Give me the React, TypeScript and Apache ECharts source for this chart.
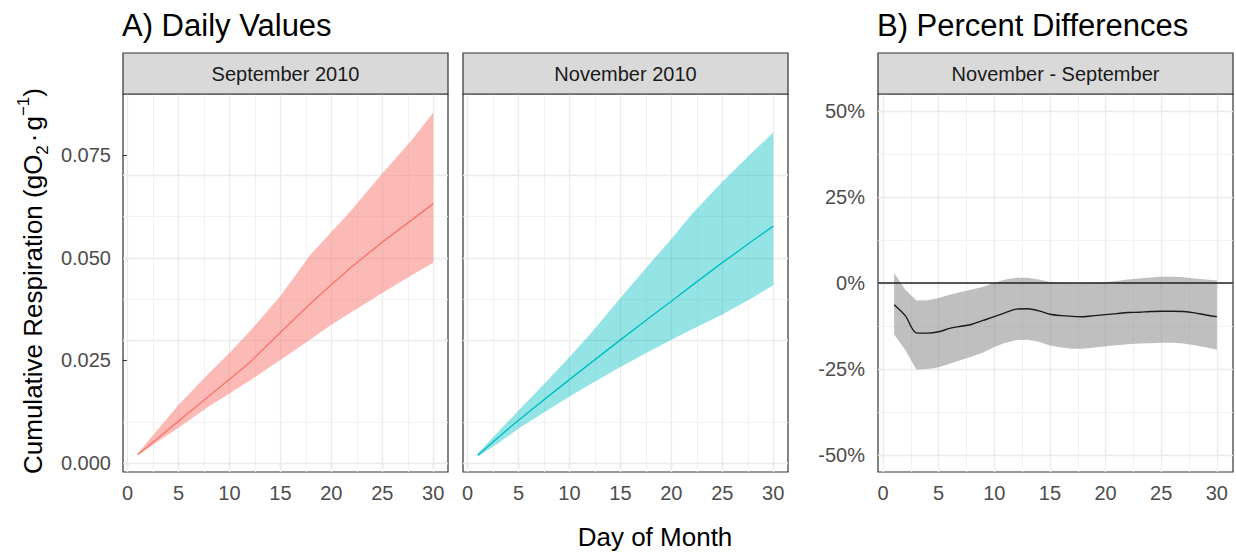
import React, { useEffect, useRef } from "react";
import * as echarts from "echarts";

// ---------- data ----------
const daysA = [1, 3, 5, 8, 10, 12, 15, 18, 20, 22, 25, 28, 30];
const sepMean = [0.00205, 0.0061, 0.0102, 0.0163, 0.0204, 0.0245, 0.0318, 0.039, 0.0434, 0.0478, 0.0538, 0.0594, 0.0632];
const sepUpper = [0.0023, 0.0083, 0.0141, 0.0219, 0.0268, 0.0321, 0.0407, 0.0509, 0.0563, 0.0617, 0.0705, 0.079, 0.0854];
const sepLower = [0.0018, 0.0053, 0.0086, 0.0138, 0.0169, 0.0201, 0.0251, 0.0302, 0.0337, 0.0368, 0.0414, 0.0459, 0.0488];
const novMean = [0.0019, 0.0062, 0.0104, 0.0164, 0.0203, 0.0242, 0.03, 0.0357, 0.0394, 0.0432, 0.0488, 0.0542, 0.0577];
const novUpper = [0.0023, 0.0076, 0.0128, 0.0205, 0.0258, 0.0313, 0.0402, 0.0489, 0.0546, 0.0606, 0.0685, 0.0758, 0.0805];
const novLower = [0.0015, 0.0048, 0.0084, 0.0131, 0.0162, 0.0191, 0.0234, 0.0274, 0.03, 0.0325, 0.0362, 0.0403, 0.0433];

const daysB = [1, 2, 3, 4, 5, 6, 7, 8, 9, 10, 11, 12, 13, 14, 15, 16, 17, 18, 19, 20, 21, 22, 23, 24, 25, 26, 27, 28, 29, 30];
const diffMean = [-6.3, -9.5, -14.5, -14.6, -14.2, -13.2, -12.6, -12.0, -10.9, -9.8, -8.6, -7.6, -7.5, -8.1, -9.1, -9.5, -9.7, -9.8, -9.5, -9.2, -8.9, -8.6, -8.5, -8.3, -8.2, -8.2, -8.3, -8.7, -9.3, -9.8];
const diffUpper = [2.9, -2.0, -5.1, -5.0, -4.4, -3.4, -2.6, -1.9, -1.1, 0.1, 1.0, 1.5, 1.5, 1.0, 0.3, 0.0, -0.1, -0.1, 0.1, 0.3, 0.6, 1.0, 1.3, 1.6, 1.8, 1.8, 1.7, 1.3, 1.0, 0.7];
const diffLower = [-15.0, -19.5, -25.2, -25.0, -24.5, -23.5, -22.4, -21.4, -20.2, -18.6, -17.4, -16.6, -16.5, -17.1, -18.2, -18.8, -19.1, -19.1, -18.8, -18.4, -18.1, -17.8, -17.6, -17.5, -17.4, -17.4, -17.6, -18.1, -18.7, -19.4];

const xTicks = [0, 5, 10, 15, 20, 25, 30];
const xMinor = [2.5, 7.5, 12.5, 17.5, 22.5, 27.5];
const yTicksA = [0, 0.025, 0.05, 0.075];
const yMinorA = [0.0125, 0.0375, 0.0625, 0.0875];
const yTicksB = [-50, -25, 0, 25, 50];
const yMinorB = [-37.5, -12.5, 12.5, 37.5];

const stripLabels = ["September 2010", "November 2010", "November - September"];
const titles = ["A) Daily Values", "B) Percent Differences"];

const FONT = "'Liberation Sans', Arial, Helvetica, sans-serif";

const panels = [
  { left: 123, width: 325 },
  { left: 463, width: 325 },
  { left: 878, width: 355 },
];
const TOP = 94;
const HEIGHT = 378;
const STRIP_H = 41;

function ribbon(idx: number, days: number[], lo: number[], hi: number[], fill: string) {
  return {
    type: "custom",
    xAxisIndex: idx,
    yAxisIndex: idx,
    z: 2,
    silent: true,
    data: days.map((d, i) => [d, lo[i], hi[i]]),
    encode: { x: 0, y: [1, 2] },
    renderItem: (params: any, api: any) => {
      if (params.dataIndex !== 0) return null;
      const pts: number[][] = [];
      for (let i = 0; i < days.length; i++) pts.push(api.coord([days[i], hi[i]]));
      for (let i = days.length - 1; i >= 0; i--) pts.push(api.coord([days[i], lo[i]]));
      return { type: "polygon", shape: { points: pts }, style: { fill } };
    },
  };
}

function gridSeries(idx: number, yMajor: number[], yMinor: number[]) {
  const major = { color: "#ebebeb", width: 1.3, type: "solid" };
  const minor = { color: "#f1f1f1", width: 0.9, type: "solid" };
  return {
    type: "line",
    xAxisIndex: idx,
    yAxisIndex: idx,
    data: [],
    z: 1,
    silent: true,
    symbol: "none",
    markLine: {
      silent: true,
      symbol: ["none", "none"],
      label: { show: false },
      z: 1,
      animation: false,
      lineStyle: { type: "solid" },
      emphasis: { disabled: true },
      data: [
        ...xMinor.map((v) => ({ xAxis: v, lineStyle: minor })),
        ...yMinor.map((v) => ({ yAxis: v, lineStyle: minor })),
        ...xTicks.map((v) => ({ xAxis: v, lineStyle: major })),
        ...yMajor.map((v) => ({ yAxis: v, lineStyle: major })),
      ],
    },
  };
}

function meanLine(idx: number, days: number[], vals: number[], color: string, width: number, smooth: number) {
  return {
    type: "line",
    xAxisIndex: idx,
    yAxisIndex: idx,
    z: 3,
    silent: true,
    symbol: "none",
    smooth,
    lineStyle: { color, width },
    data: days.map((d, i) => [d, vals[i]]),
  };
}

export default function App() {
  const ref = useRef<HTMLDivElement>(null);

  useEffect(() => {
    if (!ref.current) return;
    const chart = echarts.init(ref.current, undefined, { renderer: "svg" });

    const tickLabel = { color: "#4d4d4d", fontSize: 20, fontFamily: FONT };
    const tickStyle = { color: "#333333", width: 1.1 };

    const xAxes = panels.map((_, i) => ({
      type: "value",
      gridIndex: i,
      min: -0.45,
      max: 31.45,
      axisLine: { show: false },
      splitLine: { show: false },
      axisTick: { show: true, length: 5, lineStyle: tickStyle, customValues: xTicks },
      axisLabel: { ...tickLabel, margin: 11, customValues: xTicks, formatter: (v: number) => String(v) },
    }));

    const yAxes = [
      {
        type: "value",
        gridIndex: 0,
        min: -0.0022,
        max: 0.0899,
        axisLine: { show: false },
        splitLine: { show: false },
        axisTick: { show: true, length: 5, lineStyle: tickStyle, customValues: yTicksA },
        axisLabel: { ...tickLabel, margin: 12, customValues: yTicksA, formatter: (v: number) => v.toFixed(3) },
      },
      {
        type: "value",
        gridIndex: 1,
        min: -0.0022,
        max: 0.0899,
        axisLine: { show: false },
        splitLine: { show: false },
        axisTick: { show: false },
        axisLabel: { show: false },
      },
      {
        type: "value",
        gridIndex: 2,
        min: -55,
        max: 55,
        axisLine: { show: false },
        splitLine: { show: false },
        axisTick: { show: true, length: 5, lineStyle: tickStyle, customValues: yTicksB },
        axisLabel: { ...tickLabel, margin: 13, customValues: yTicksB, formatter: (v: number) => `${v}%` },
      },
    ];

    const grids = panels.map((p) => ({
      left: p.left,
      top: TOP,
      width: p.width,
      height: HEIGHT,
      show: true,
      backgroundColor: "#ffffff",
      borderColor: "#333333",
      borderWidth: 1.2,
      outerBoundsMode: "none",
      containLabel: false,
      z: 0,
    }));

    const graphics: any[] = [];
    panels.forEach((p, i) => {
      graphics.push({
        type: "rect",
        shape: { x: p.left, y: TOP - STRIP_H, width: p.width, height: STRIP_H },
        style: { fill: "#d9d9d9", stroke: "#333333", lineWidth: 1.2 },
        z: 10,
      });
      graphics.push({
        type: "text",
        x: p.left + p.width / 2,
        y: TOP - STRIP_H / 2,
        style: {
          text: stripLabels[i],
          fill: "#1a1a1a",
          font: `20px ${FONT}`,
          textAlign: "center",
          textVerticalAlign: "middle",
        },
        z: 11,
      });
    });
    graphics.push({
      type: "text",
      x: 122,
      y: 25,
      style: { text: titles[0], fill: "#000000", font: `31px ${FONT}`, textAlign: "left", textVerticalAlign: "middle" },
    });
    graphics.push({
      type: "text",
      x: 877,
      y: 25,
      style: { text: titles[1], fill: "#000000", font: `31px ${FONT}`, textAlign: "left", textVerticalAlign: "middle" },
    });
    graphics.push({
      type: "text",
      x: 655,
      y: 537,
      style: { text: "Day of Month", fill: "#000000", font: `26px ${FONT}`, textAlign: "center", textVerticalAlign: "middle" },
    });
    graphics.push({
      type: "text",
      x: 33,
      y: 281,
      rotation: Math.PI / 2,
      style: {
        text: "Cumulative Respiration (gO{sub|2}{dot|·}g{sup|−1})",
        fill: "#000000",
        fontSize: 26,
        fontFamily: FONT,
        lineHeight: 36,
        textAlign: "center",
        textVerticalAlign: "middle",
        rich: {
          sub: { fontSize: 17, fontFamily: FONT, fill: "#000000", verticalAlign: "bottom", lineHeight: 17 },
          sup: { fontSize: 17, fontFamily: FONT, fill: "#000000", verticalAlign: "top", lineHeight: 17 },
          dot: { fontSize: 26, fontFamily: FONT, fill: "#000000", padding: [0, 3, 0, 3] },
        },
      },
    });

    const series: any[] = [
      gridSeries(0, yTicksA, yMinorA),
      gridSeries(1, yTicksA, yMinorA),
      gridSeries(2, yTicksB, yMinorB),
      ribbon(0, daysA, sepLower, sepUpper, "rgba(248,118,109,0.5)"),
      ribbon(1, daysA, novLower, novUpper, "rgba(0,191,196,0.42)"),
      ribbon(2, daysB, diffLower, diffUpper, "rgba(128,128,128,0.5)"),
      meanLine(0, daysA, sepMean, "#F8766D", 1.4, 0),
      meanLine(1, daysA, novMean, "#00BFC4", 1.4, 0),
      {
        type: "line",
        xAxisIndex: 2,
        yAxisIndex: 2,
        data: [],
        z: 4,
        silent: true,
        symbol: "none",
        markLine: {
          silent: true,
          symbol: ["none", "none"],
          label: { show: false },
          z: 4,
          animation: false,
          lineStyle: { type: "solid", color: "#222222", width: 1.6 },
          data: [{ yAxis: 0 }],
        },
      },
      meanLine(2, daysB, diffMean, "#1a1a1a", 1.4, 0.3),
    ];

    chart.setOption({
      animation: false,
      backgroundColor: "#ffffff",
      grid: grids,
      xAxis: xAxes,
      yAxis: yAxes,
      graphic: graphics,
      series,
    });

    return () => chart.dispose();
  }, []);

  return (
    <div
      ref={ref}
      style={{ position: "fixed", left: 0, top: 0, width: 1236, height: 552, background: "#fff" }}
    />
  );
}
